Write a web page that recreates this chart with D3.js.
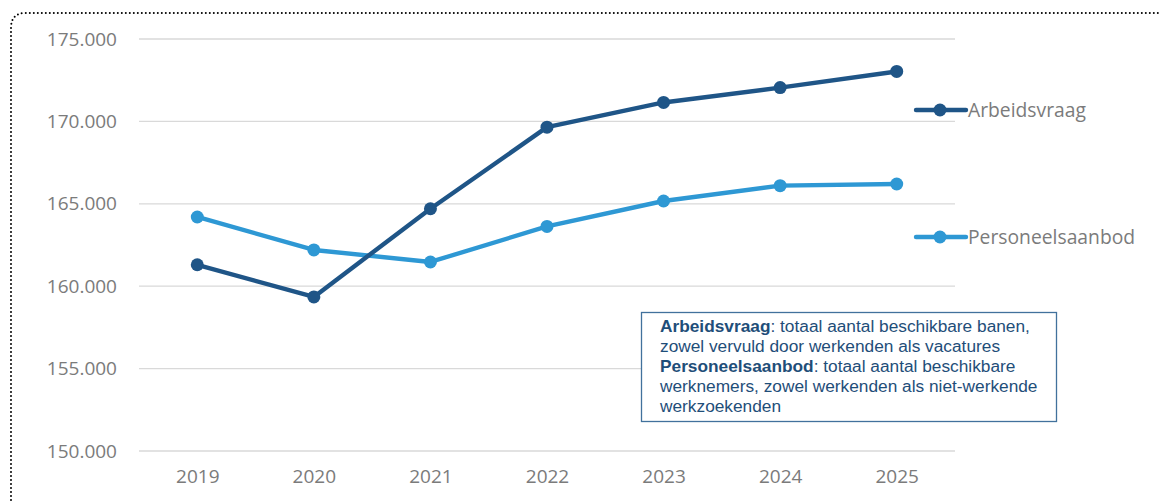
<!DOCTYPE html>
<html><head><meta charset="utf-8">
<script src="https://cdn.jsdelivr.net/npm/d3@7"></script>
<style>
html,body{margin:0;padding:0;background:#fff;}
svg{display:block;}
</style></head>
<body>
<svg id="chart" width="1160" height="502"></svg>
<script>
const years = ["2019","2020","2021","2022","2023","2024","2025"];
const arbeidsvraag = [161300, 159350, 164700, 169650, 171150, 172050, 173030];
const personeelsaanbod = [164200, 162200, 161470, 163630, 165170, 166100, 166200];
const seriesNames = ["Arbeidsvraag", "Personeelsaanbod"];
const yTicks = [150000, 155000, 160000, 165000, 170000, 175000];
const noteLines = [
  [{b:"Arbeidsvraag"}, {t:": totaal aantal beschikbare banen,"}],
  [{t:"zowel vervuld door werkenden als vacatures"}],
  [{b:"Personeelsaanbod"}, {t:": totaal aantal beschikbare"}],
  [{t:"werknemers, zowel werkenden als niet-werkende"}],
  [{t:"werkzoekenden"}]
];

const colors = ["#1f5587", "#2e98d4"];
const svg = d3.select("#chart");
const font = "'Open Sans', 'Noto Sans', sans-serif";
const labelColor = "#7b7b7b";

// dotted frame
svg.append("path")
  .attr("d", "M11,1200 L11,28 Q11,13 26,13 L1200,13")
  .attr("fill","none").attr("stroke","#000").attr("stroke-width",2)
  .attr("stroke-dasharray","0 4").attr("stroke-linecap","round");

const x = d3.scalePoint().domain(years).range([139, 955]).padding(0.5);
const y = d3.scaleLinear().domain([150000, 175000]).range([451, 39]);

// gridlines
svg.append("g").selectAll("line").data(yTicks).join("line")
  .attr("x1", 139).attr("x2", 955)
  .attr("y1", d => y(d)).attr("y2", d => y(d))
  .attr("stroke", "#d9d9d9").attr("stroke-width", 1.3);

const fmt = d => d3.format(",")(d).replace(/,/g, ".");
// y axis
const yAxis = d3.axisLeft(y).tickValues(yTicks).tickFormat(fmt).tickSize(0).tickPadding(0);
const gy = svg.append("g").attr("transform", "translate(117,0)").call(yAxis);
gy.select(".domain").remove();
gy.selectAll("text").attr("font-family", font).attr("font-size", 19).attr("fill", labelColor);

// x axis
const xAxis = d3.axisBottom(x).tickSize(0).tickPadding(0);
const gx = svg.append("g").attr("transform", "translate(0,469)").call(xAxis);
gx.select(".domain").remove();
gx.selectAll("text").attr("font-family", font).attr("font-size", 19).attr("fill", labelColor);

// lines
const data = [arbeidsvraag, personeelsaanbod];
const line = d3.line().x((d, i) => x(years[i])).y(d => y(d));
[1, 0].forEach(k => {
  svg.append("path").datum(data[k]).attr("d", line)
    .attr("fill", "none").attr("stroke", colors[k]).attr("stroke-width", 4.4)
    .attr("stroke-linejoin", "round");
  svg.append("g").selectAll("circle").data(data[k]).join("circle")
    .attr("cx", (d, i) => x(years[i])).attr("cy", d => y(d)).attr("r", 6.5)
    .attr("fill", colors[k]);
});

// legend
const legY = [110, 237];
seriesNames.forEach((n, k) => {
  const g = svg.append("g");
  g.append("line").attr("x1", 916).attr("x2", 966).attr("y1", legY[k]).attr("y2", legY[k])
    .attr("stroke", colors[k]).attr("stroke-width", 4.4).attr("stroke-linecap", "round");
  g.append("circle").attr("cx", 940).attr("cy", legY[k]).attr("r", 6.5).attr("fill", colors[k]);
  g.append("text").attr("x", 968).attr("y", legY[k]).attr("dy", "0.35em")
    .attr("font-family", font).attr("font-size", 19.3).attr("fill", labelColor).text(n);
});

// note box
svg.append("rect").attr("x", 641.5).attr("y", 312.5).attr("width", 415).attr("height", 109)
  .attr("fill", "#fff").attr("stroke", "#41719c").attr("stroke-width", 1.3);
const nt = svg.append("text").attr("font-family", "'Liberation Sans', Arial, sans-serif")
  .attr("font-size", 17.3).attr("fill", "#1f4e79");
noteLines.forEach((ln, i) => {
  const t = nt.append("tspan").attr("x", 660).attr("y", 332 + i * 19.9);
  ln.forEach((seg, j) => {
    const s = j === 0 ? t : nt.append("tspan");
    if (seg.b) s.attr("font-weight", "bold").text(seg.b);
    else s.text(seg.t);
  });
});
</script>
</body></html>
